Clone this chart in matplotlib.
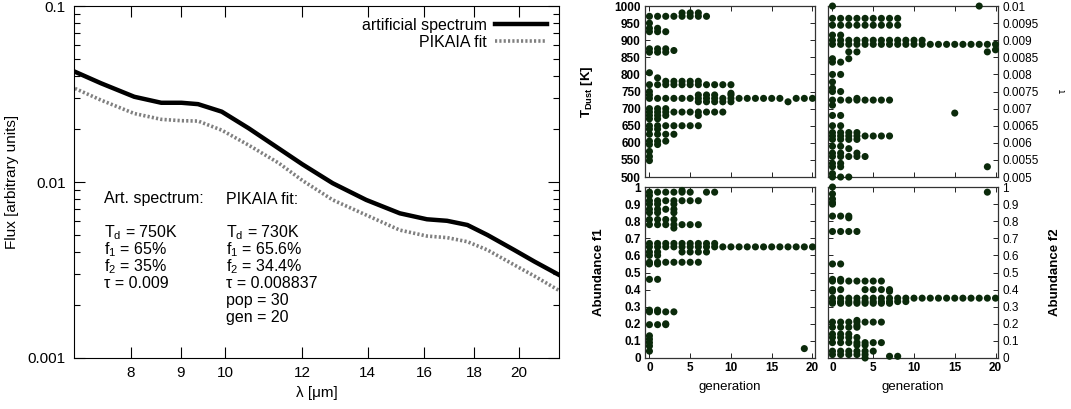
import numpy as np
import matplotlib
matplotlib.use("Agg")
from matplotlib import pyplot as plt
from matplotlib.ticker import FixedLocator, FixedFormatter, NullLocator, NullFormatter

plt.rcParams['font.family'] = ['Liberation Sans', 'DejaVu Sans']
plt.rcParams['mathtext.fontset'] = 'custom'
plt.rcParams['mathtext.rm'] = 'Liberation Sans'
plt.rcParams['mathtext.bf'] = 'Liberation Sans:bold'

# spectrum values
wave = [6.95, 7.46, 8.07, 8.60, 9.02, 9.38, 9.92, 10.57, 11.35, 12.0, 12.89,
        13.95, 15.10, 16.10, 16.88, 17.71, 18.57, 19.78, 20.75, 22.1]
flux_art = [0.0433, 0.0364, 0.0305, 0.0282, 0.0282, 0.0277, 0.0251, 0.0202,
            0.0155, 0.0126, 0.00984, 0.00791, 0.00664, 0.00614, 0.00602,
            0.00570, 0.00500, 0.00411, 0.00353, 0.00292]
flux_fit = [0.0348, 0.0292, 0.0245, 0.0227, 0.0223, 0.0222, 0.0197, 0.0162,
            0.0128, 0.0102, 0.00791, 0.00649, 0.00533, 0.00493, 0.00483,
            0.00458, 0.00411, 0.00338, 0.00292, 0.00238]
wave_ticks = [8, 9, 10, 12, 14, 16, 18, 20]

# population snapshots: (value, generations where a member sits at it)
tdust_rows = [
    (980, [4, 5, 6]), (970, [0, 1, 2, 3, 4, 5, 6, 7]), (950, [0]),
    (935, [0, 1]), (925, [0, 1, 2]), (875, [0, 1, 2]), (870, [3]),
    (865, [0, 1, 2]), (805, [0]), (790, [1]), (780, [2, 3, 4, 5, 6]),
    (770, [0, 1, 2, 3, 4, 5, 6, 7, 8, 9, 10]), (750, [0]), (745, [10]),
    (740, [0, 6, 7, 8, 10]),
    (730, [0, 1, 2, 3, 4, 5, 6, 7, 8, 9, 10, 11, 12, 13, 14, 15, 16, 18, 19, 20]),
    (720, [6, 7, 8, 9, 10, 17]), (700, [0, 1, 2]),
    (690, [0, 1, 2, 3, 4, 5, 6, 7, 8, 9]), (680, [0, 1, 2, 6]),
    (670, [0, 1]), (650, [0, 1, 2, 3, 4, 5, 6]), (640, [0, 1]),
    (625, [0, 1, 2, 3]), (605, [0, 1, 2]), (595, [0, 1]),
    (575, [0]), (560, [0]), (548, [0]),
]
tau_rows = [
    (0.0100, [0, 18]), (0.00964, [0, 1, 2, 3, 4, 5, 6, 7, 8]),
    (0.00944, [0, 1, 2, 3, 4, 5, 6, 7, 8]), (0.00915, [0, 1]),
    (0.00900, [0, 1, 2, 3, 4, 5, 6, 7, 8, 9, 10, 11]),
    (0.00888, [0, 1, 2, 3, 4, 5, 6, 7, 8, 9, 10, 11, 12, 13, 14, 15, 16, 17, 18, 19, 20]),
    (0.00866, [2, 3, 19]), (0.00872, [20]), (0.00846, [0, 2]),
    (0.00836, [0, 1]), (0.00800, [0, 1]), (0.00778, [0]), (0.00760, [0]),
    (0.00750, [0, 1]), (0.00730, [3]), (0.00725, [0, 1, 2, 3, 4, 5, 6, 7]),
    (0.00710, [0]), (0.00687, [15]), (0.00680, [0, 1]), (0.00650, [0, 1]),
    (0.00630, [0, 1, 2, 3]), (0.00620, [0, 1, 2, 3, 4, 5, 6, 7]),
    (0.00610, [0, 1, 2, 3]), (0.00590, [0, 1]), (0.00583, [2]),
    (0.00570, [0, 1, 3]), (0.00560, [0, 1, 2, 3, 4]), (0.00540, [0, 1]),
    (0.00530, [0, 1, 19]), (0.00510, [0]), (0.00500, [0, 1, 2]),
]
f1_rows = [
    (0.98, [4]), (0.97, [0, 1, 2, 3, 4, 5, 7, 8]), (0.95, [0]),
    (0.92, [0, 1, 2, 3, 4, 5, 6]), (0.90, [0, 1, 3]), (0.87, [0, 1, 2, 3]),
    (0.85, [0, 1, 3]), (0.81, [0, 1, 2, 3]), (0.78, [0, 1, 2, 3, 4, 5, 6]),
    (0.76, [3]), (0.67, [0, 1, 2, 3, 4, 5, 6, 7, 8]),
    (0.65, [0, 1, 2, 3, 4, 5, 6, 7, 8, 9, 10, 11, 12, 13, 14, 15, 16, 17, 18, 19, 20]),
    (0.62, [0, 1, 4, 5, 6, 7]), (0.60, [0, 1]), (0.56, [0, 1, 2, 3, 4, 5, 6]),
    (0.55, [0, 1]), (0.46, [0, 1]), (0.28, [0, 1]), (0.27, [0, 1, 2, 3]),
    (0.20, [2]), (0.195, [0, 1, 2]), (0.13, [0]), (0.11, [0]), (0.09, [0]),
    (0.07, [0]), (0.055, [19]), (0.04, [0]),
]
f2_rows = [
    (1.0, [0]), (0.97, [19]), (0.96, [0]), (0.93, [0]), (0.91, [0]),
    (0.90, [0]), (0.83, [0, 1, 2]), (0.82, [2]), (0.74, [0, 1, 2, 3]),
    (0.55, [0, 1]), (0.46, [0, 1]), (0.45, [0, 1, 2, 3, 4, 5, 6]),
    (0.40, [0, 1, 4, 5, 6, 7]), (0.39, [0, 7]),
    (0.35, [0, 1, 2, 3, 4, 5, 6, 7, 8, 9, 10, 11, 12, 13, 14, 15, 16, 17, 18, 19, 20]),
    (0.33, [0, 1, 2, 3, 4, 5, 6, 7, 8, 9]), (0.32, [0, 1, 2, 3, 4, 5, 6, 7]),
    (0.22, [3]), (0.21, [0, 1, 2, 3, 4, 5, 6]), (0.19, [3]),
    (0.18, [0, 1, 2, 3]), (0.14, [0, 1, 2]), (0.12, [0, 1, 2, 3]),
    (0.09, [0, 1, 2, 3, 4, 5, 6]), (0.075, [3, 4]), (0.04, [0, 1, 2, 3, 4, 5]),
    (0.02, [0, 1, 2, 3, 4]), (0.01, [7, 8]), (0.0, [4]),
]

DOT = '#0b2a0b'


def expand(rows):
    xs, ys = [], []
    for val, gens in rows:
        for g in gens:
            xs.append(g)
            ys.append(val)
    return np.array(xs), np.array(ys)


fig = plt.figure(figsize=(10.71, 4.09), dpi=100)

# ---- spectrum panel
ax = fig.add_axes([0.0691, 0.1247, 0.4531, 0.8606])
ax.plot(wave, flux_art, color='black', lw=3.2, label='artificial spectrum',
        solid_joinstyle='round')
ax.plot(wave, flux_fit, color='#808080', lw=2.6, ls=(0, (0.6, 0.6)),
        label='PIKAIA fit')
ax.set_xscale('log')
ax.set_yscale('log')
ax.set_xlim(7, 22)
ax.set_ylim(0.001, 0.1)
ax.xaxis.set_major_locator(FixedLocator(wave_ticks))
ax.xaxis.set_major_formatter(FixedFormatter([str(t) for t in wave_ticks]))
ax.xaxis.set_minor_locator(NullLocator())
ax.xaxis.set_minor_formatter(NullFormatter())
ax.yaxis.set_major_locator(FixedLocator([0.001, 0.01, 0.1]))
ax.yaxis.set_major_formatter(FixedFormatter(['0.001', '0.01', '0.1']))
ax.tick_params(which='both', direction='in', top=True, right=True, labelsize=11)
ax.tick_params(which='major', length=8, width=0.8, pad=6)
ax.tick_params(which='minor', length=4, width=0.8)
ax.set_xlabel('λ [μm]', fontsize=11, labelpad=4)
ax.set_ylabel('Flux [arbitrary units]', fontsize=11, labelpad=6)
leg = ax.legend(loc='upper right', frameon=False, markerfirst=False,
                fontsize=11.5, handlelength=3.3, labelspacing=0.1,
                borderaxespad=0.35, handletextpad=0.5)

left_txt = ['Art. spectrum:', '', r'T$_\mathrm{d}$ = 750K', r'f$_1$ = 65%',
            r'f$_2$ = 35%', 'τ = 0.009']
right_txt = ['PIKAIA fit:', '', r'T$_\mathrm{d}$ = 730K', r'f$_1$ = 65.6%',
             r'f$_2$ = 34.4%', 'τ = 0.008837', 'pop = 30', 'gen = 20']
y0 = 199
for i, s in enumerate(left_txt):
    fig.text(104 / 1071, 1 - (y0 + i * 16.9) / 409, s, fontsize=11.5, va='center')
for i, s in enumerate(right_txt):
    fig.text(226 / 1071, 1 - (y0 + i * 16.9) / 409, s, fontsize=11.5, va='center')

# ---- population panels
def pop_panel(rect, rows, ylim, yticks, ylabels, side, xlabels):
    a = fig.add_axes(rect)
    gx, gy = expand(rows)
    a.scatter(gx, gy, s=26, color=DOT, edgecolors='none', clip_on=False, zorder=3)
    a.set_xlim(-0.55, 20.3)
    a.set_ylim(*ylim)
    a.set_xticks([0, 5, 10, 15, 20])
    a.set_yticks(yticks)
    a.set_yticklabels(ylabels)
    a.tick_params(direction='in', top=True, right=True, length=3.5, width=0.6,
                  labelsize=8.5, pad=3)
    for lab in a.get_yticklabels() + a.get_xticklabels():
        lab.set_fontweight('bold')
    if side == 'right':
        a.yaxis.tick_right()
        a.tick_params(left=True, right=True, direction='in')
    if xlabels:
        a.set_xlabel('generation', fontsize=9.5, labelpad=5)
    else:
        a.set_xticklabels([])
    for sp in a.spines.values():
        sp.set_linewidth(0.9)
        sp.set_color('#333333')
    return a


t_ticks = [500, 550, 600, 650, 700, 750, 800, 850, 900, 950, 1000]
a1 = pop_panel([0.6022, 0.5672, 0.1587, 0.418], tdust_rows, (500, 1000),
               t_ticks, [str(t) for t in t_ticks], 'left', False)
a1.set_ylabel(r'$\mathbf{T_{Dust}}$ [K]', fontsize=9.5, fontweight='bold', labelpad=14)

tau_ticks = [0.005, 0.0055, 0.006, 0.0065, 0.007, 0.0075, 0.008, 0.0085,
             0.009, 0.0095, 0.01]
a2 = pop_panel([0.7731, 0.5672, 0.1587, 0.418], tau_rows, (0.005, 0.01),
               tau_ticks, [f'{t:g}' for t in tau_ticks], 'right', False)
a2.yaxis.set_label_position('right')
a2.set_ylabel('τ', fontsize=7, rotation=90, labelpad=14)

f_ticks = [0, 0.1, 0.2, 0.3, 0.4, 0.5, 0.6, 0.7, 0.8, 0.9, 1]
f_labels = [f'{t:g}' for t in f_ticks]
a3 = pop_panel([0.6022, 0.1247, 0.1587, 0.418], f1_rows, (0, 1),
               f_ticks, f_labels, 'left', True)
a3.set_ylabel('Abundance f1', fontsize=9.5, fontweight='bold', labelpad=14)

a4 = pop_panel([0.7731, 0.1247, 0.1587, 0.418], f2_rows, (0, 1),
               f_ticks, f_labels, 'right', True)
a4.yaxis.set_label_position('right')
a4.set_ylabel('Abundance f2', fontsize=9.5, fontweight='bold', labelpad=22)

fig.savefig('out.png', dpi=100)
